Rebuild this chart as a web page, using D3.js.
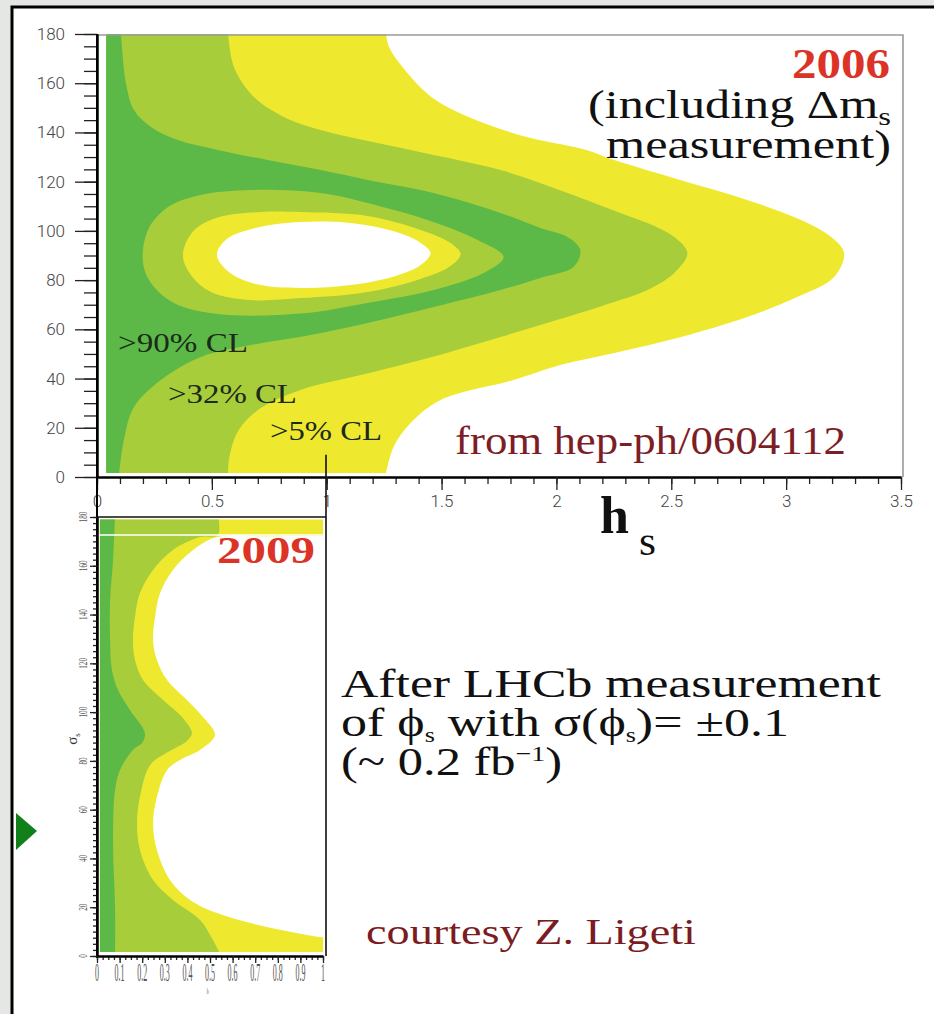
<!DOCTYPE html>
<html>
<head>
<meta charset="utf-8">
<script src="https://cdn.jsdelivr.net/npm/d3@7"></script>
<style>
  html, body { margin: 0; padding: 0; background: #fff; }
  svg { display: block; }
  .serif { font-family: "Liberation Serif", serif; }
  .ticklbl { font-family: Roboto, "DejaVu Sans", sans-serif; font-weight: 300; }
</style>
</head>
<body>
<svg id="chart" width="934" height="1014"></svg>
<script>
// ---------- axis ticks ----------
const hTicks2006 = [0, 0.5, 1, 1.5, 2, 2.5, 3, 3.5];
const hTickLabels2006 = ["0", "0.5", "1", "1.5", "2", "2.5", "3", "3.5"];
const sigmaTicks = [0, 20, 40, 60, 80, 100, 120, 140, 160, 180];
const sigmaTickLabels = ["0", "20", "40", "60", "80", "100", "120", "140", "160", "180"];
const hTicks2009 = [0, 0.1, 0.2, 0.3, 0.4, 0.5, 0.6, 0.7, 0.8, 0.9, 1];
const hTickLabels2009 = ["0", "0.1", "0.2", "0.3", "0.4", "0.5", "0.6", "0.7", "0.8", "0.9", "1"];

// ---------- 2006 fit: CL contour boundaries, [h_s, sigma_s (deg)] ----------
// outer edges of the left-attached regions, listed from sigma = 180 down to 0
const cl5Outer2006 = [
  [1.257, 181], [1.27, 175], [1.33, 166.6], [1.474, 153.2], [1.809, 139.8], [2.13, 132.9],
  [2.252, 128.8], [2.539, 120.7], [2.830, 112.6], [3.065, 104.4], [3.196, 97.5], [3.252, 91.0],
  [3.209, 81.3], [3.048, 73.1], [2.830, 65.0], [2.543, 56.9], [2.252, 50.4], [2.017, 45.5],
  [1.813, 39.4], [1.496, 31.3], [1.365, 21.9], [1.291, 12.2], [1.257, 1.0]
];
const cl32Outer2006 = [
  [0.570, 181], [0.596, 166.6], [0.683, 154.4], [0.813, 146.3], [0.974, 141.0], [1.365, 132.9],
  [1.757, 124.7], [2.048, 115.4], [2.278, 107.3], [2.396, 103.2], [2.513, 97.5], [2.570, 91.0],
  [2.513, 82.9], [2.396, 76.0], [2.252, 71.1], [1.757, 56.9], [1.409, 47.5], [1.148, 41.4],
  [0.887, 35.4], [0.713, 28.0], [0.617, 19.1], [0.578, 8.9], [0.570, 1.0]
];
const cl90Outer2006 = [
  [0.104, 181], [0.126, 160.1], [0.161, 149.1], [0.235, 142.2], [0.352, 136.9], [0.526, 132.9],
  [0.743, 128.8], [0.974, 124.7], [1.178, 120.7], [1.465, 115.4], [1.757, 107.3], [1.930, 101.2],
  [2.048, 97.5], [2.104, 92.2], [2.074, 85.3], [1.930, 80.9], [1.757, 76.0], [1.465, 69.1],
  [1.178, 62.6], [0.930, 57.7], [0.670, 53.6], [0.452, 48.8], [0.278, 39.4], [0.161, 28.4],
  [0.117, 15.0], [0.096, 1.0]
];
// closed islands around the preferred point near sigma = 90
const cl90Hole2006 = [
  [0.200, 87.4], [0.222, 100.4], [0.309, 109.7], [0.452, 114.6], [0.670, 116.6], [0.974, 115.4],
  [1.178, 111.3], [1.465, 103.6], [1.657, 96.3], [1.770, 89.4], [1.683, 82.9], [1.465, 76.0],
  [1.178, 70.7], [0.887, 66.4], [0.526, 66.2], [0.335, 70.7], [0.235, 78.8]
];
const cl32Hole2006 = [
  [0.374, 90.2], [0.417, 99.6], [0.517, 105.2], [0.713, 107.7], [0.887, 107.7], [1.178, 106.1],
  [1.409, 100.4], [1.539, 95.1], [1.583, 90.6], [1.539, 85.7], [1.409, 80.5], [1.178, 75.2],
  [0.887, 72.7], [0.670, 71.9], [0.496, 75.2], [0.409, 82.1]
];
const cl5Hole2006 = [
  [0.522, 90.2], [0.565, 96.7], [0.691, 101.2], [0.887, 103.6], [1.104, 103.2], [1.300, 99.6],
  [1.409, 95.1], [1.452, 91.0], [1.409, 86.1], [1.300, 81.7], [1.104, 78.0], [0.887, 76.8],
  [0.691, 78.4], [0.574, 83.3]
];

// ---------- 2009 projection: CL contour edges, [h_s, sigma_s (deg)] ----------
const cl5Edge2009 = [
  [1.0, 172.2], [0.75, 172.1], [0.531, 171.8], [0.425, 166.5], [0.336, 158.3], [0.279, 148.8],
  [0.257, 139.0], [0.248, 129.6], [0.265, 121.4], [0.310, 113.2], [0.398, 105.0], [0.469, 98.0],
  [0.522, 90.6], [0.456, 84.5], [0.367, 80.4], [0.310, 76.3], [0.265, 65.2], [0.248, 54.5],
  [0.265, 43.5], [0.323, 31.2], [0.412, 23.0], [0.531, 17.6], [0.752, 11.9], [0.987, 7.8], [1.02, 7.6]
];
const cl32Edge2009 = [
  [0.535, 181], [0.535, 172.6], [0.456, 171.8], [0.336, 166.5], [0.248, 158.3], [0.190, 148.8],
  [0.168, 139.0], [0.159, 129.6], [0.168, 121.4], [0.204, 113.2], [0.292, 105.0], [0.376, 98.0],
  [0.420, 91.4], [0.398, 88.2], [0.314, 83.6], [0.235, 78.3], [0.190, 65.2], [0.177, 54.5],
  [0.190, 43.5], [0.248, 31.2], [0.336, 23.0], [0.456, 14.8], [0.513, 6.6], [0.544, 1.0]
];
const cl90Edge2009 = [
  [0.080, 181], [0.071, 162.4], [0.058, 146.0], [0.058, 129.6], [0.066, 117.3], [0.093, 109.1],
  [0.146, 100.9], [0.212, 91.4], [0.199, 87.3], [0.159, 84.5], [0.102, 76.3], [0.080, 68.1],
  [0.071, 47.6], [0.080, 20.1], [0.080, 1.0]
];

// ---------- styling ----------
const colYellow = "#eee92f";
const colLight = "#a7cd3b";
const colGreen = "#5cb947";

const svg = d3.select("#chart");
const defs = svg.append("defs");

// slide backdrop and frame
svg.append("rect").attr("width", 934).attr("height", 1014).attr("fill", "#e4e7e4");
svg.append("rect").attr("x", 12).attr("y", 7).attr("width", 930).attr("height", 1010).attr("fill", "#fff");
svg.append("path").attr("d", "M12,1014V7H934").attr("fill", "none").attr("stroke", "#000").attr("stroke-width", 3);

// stretches a text element horizontally so it spans `width` starting at x
function placeText(sel, x, baseline, width) {
  const bb = sel.node().getBBox();
  const s = width / bb.width;
  sel.attr("transform", `translate(${x - bb.x * s},${baseline}) scale(${s},1)`);
  return sel;
}

// ================= 2006 panel =================
const x06 = d3.scaleLinear().domain([0, 3.5]).range([97, 901]);
const y06 = d3.scaleLinear().domain([0, 180]).range([477, 34]);

defs.append("clipPath").attr("id", "clip06").append("rect")
  .attr("x", x06(0.04)).attr("y", y06(180))
  .attr("width", x06(3.5) - x06(0.04)).attr("height", y06(1.6) - y06(180));

const g06 = svg.append("g").attr("clip-path", "url(#clip06)");
const band06 = d3.area().curve(d3.curveCatmullRom.alpha(0.5))
  .y(d => y06(d[1])).x0(x06(0)).x1(d => x06(d[0]));
const ring06 = d3.line().curve(d3.curveCatmullRomClosed.alpha(0.5))
  .x(d => x06(d[0])).y(d => y06(d[1]));

g06.append("path").datum(cl5Outer2006).attr("d", band06).attr("fill", colYellow);
g06.append("path").datum(cl32Outer2006).attr("d", band06).attr("fill", colLight);
g06.append("path").datum(cl90Outer2006).attr("d", band06).attr("fill", colGreen);
g06.append("path").datum(cl90Hole2006).attr("d", ring06).attr("fill", colLight);
g06.append("path").datum(cl32Hole2006).attr("d", ring06).attr("fill", colYellow);
g06.append("path").datum(cl5Hole2006).attr("d", ring06).attr("fill", "#fff");

// light frame on top and right
svg.append("path")
  .attr("d", `M${x06(0)},${y06(180) + 1}H${x06(3.5) + 2}V${y06(0)}`)
  .attr("fill", "none").attr("stroke", "#9a9a9a").attr("stroke-width", 1.6);

function styleAxis(g, w) {
  g.select(".domain").attr("stroke", "#000").attr("stroke-width", w);
  g.selectAll(".tick line").attr("stroke", "#222").attr("stroke-width", 1.3);
}

// h_s axis
const minorH06 = d3.range(0, 3.5001, 0.1);
const gx06m = svg.append("g").attr("transform", `translate(0,${y06(0)})`)
  .call(d3.axisBottom(x06).tickValues(minorH06).tickSize(7).tickFormat("").tickSizeOuter(0));
styleAxis(gx06m, 2);
const gx06 = svg.append("g").attr("transform", `translate(0,${y06(0)})`)
  .call(d3.axisBottom(x06).tickValues(hTicks2006).tickSize(13).tickSizeOuter(0).tickPadding(5)
    .tickFormat((d, i) => hTickLabels2006[i]));
styleAxis(gx06, 2);
gx06.selectAll(".tick text").attr("class", "ticklbl").attr("font-size", 17).attr("fill", "#444");

// sigma axis
const minorS06 = d3.range(0, 180.001, 5);
const gy06m = svg.append("g").attr("transform", `translate(${x06(0)},0)`)
  .call(d3.axisLeft(y06).tickValues(minorS06).tickSize(13).tickFormat("").tickSizeOuter(0));
styleAxis(gy06m, 2);
const gy06 = svg.append("g").attr("transform", `translate(${x06(0)},0)`)
  .call(d3.axisLeft(y06).tickValues(sigmaTicks).tickSize(22).tickSizeOuter(0).tickPadding(10)
    .tickFormat((d, i) => sigmaTickLabels[i]));
styleAxis(gy06, 2);
gy06.selectAll(".tick text").attr("class", "ticklbl").attr("font-size", 17).attr("fill", "#444");

// ================= 2009 panel =================
const x09 = d3.scaleLinear().domain([0, 1]).range([97, 323]);
const y09 = d3.scaleLinear().domain([0, 180]).range([956, 517]);

defs.append("clipPath").attr("id", "clip09").append("rect")
  .attr("x", x09(0.013)).attr("y", y09(179))
  .attr("width", x09(1) - x09(0.013)).attr("height", y09(1.6) - y09(179));

const g09 = svg.append("g").attr("clip-path", "url(#clip09)");
g09.append("rect").attr("x", x09(0)).attr("y", y09(180))
  .attr("width", x09(1) - x09(0)).attr("height", y09(0) - y09(180)).attr("fill", colYellow);
g09.append("path").datum(cl5Edge2009)
  .attr("d", d3.area().curve(d3.curveCatmullRom.alpha(0.5))
    .y(d => y09(d[1])).x0(d => x09(d[0])).x1(x09(1.05)))
  .attr("fill", "#fff");
const band09 = d3.area().curve(d3.curveCatmullRom.alpha(0.5))
  .y(d => y09(d[1])).x0(x09(0)).x1(d => x09(d[0]));
g09.append("path").datum(cl32Edge2009).attr("d", band09).attr("fill", colLight);
g09.append("path").datum(cl90Edge2009).attr("d", band09).attr("fill", colGreen);

// thin white seam across the top of the panel
svg.append("line").attr("x1", x09(0)).attr("x2", x09(1) + 8)
  .attr("y1", y09(172.6)).attr("y2", y09(172.6))
  .attr("stroke", "#fff").attr("stroke-width", 1.6);

// panel frame: top and right edges
svg.append("path")
  .attr("d", `M${x09(0)},${y09(180)}H${x09(1) + 3}M${x09(1) + 3},${y06(9)}V${y09(0)}`)
  .attr("fill", "none").attr("stroke", "#111").attr("stroke-width", 1.6);

// long left spine shared by both panels
svg.append("line").attr("x1", x06(0)).attr("x2", x06(0))
  .attr("y1", y06(180)).attr("y2", y09(0) + 2)
  .attr("stroke", "#000").attr("stroke-width", 2);

const gx09m = svg.append("g").attr("transform", `translate(0,${y09(0)})`)
  .call(d3.axisBottom(x09).tickValues(d3.range(0, 1.0001, 0.025)).tickSize(4).tickFormat("").tickSizeOuter(0));
styleAxis(gx09m, 2);
const gx09 = svg.append("g").attr("transform", `translate(0,${y09(0)})`)
  .call(d3.axisBottom(x09).tickValues(hTicks2009).tickSize(7).tickFormat("").tickSizeOuter(0));
styleAxis(gx09, 2);
// squeezed tick labels under the small panel
svg.append("g").selectAll("text").data(hTicks2009).join("text")
  .attr("class", "serif")
  .attr("transform", d => `translate(${x09(d)},${y09(0) + 7}) scale(0.32,1)`)
  .attr("text-anchor", "middle").attr("dominant-baseline", "hanging")
  .attr("font-size", 25).attr("fill", "#555")
  .text((d, i) => hTickLabels2009[i]);

const gy09m = svg.append("g").attr("transform", `translate(${x09(0)},0)`)
  .call(d3.axisLeft(y09).tickValues(d3.range(0, 180.001, 2.5)).tickSize(4).tickFormat("").tickSizeOuter(0));
styleAxis(gy09m, 2);
const gy09 = svg.append("g").attr("transform", `translate(${x09(0)},0)`)
  .call(d3.axisLeft(y09).tickValues(sigmaTicks).tickSize(7).tickFormat("").tickSizeOuter(0));
styleAxis(gy09, 2);
svg.append("g").selectAll("text").data(sigmaTicks).join("text")
  .attr("class", "serif")
  .attr("transform", d => `translate(${x09(0) - 10},${y09(d)}) rotate(-90) scale(0.6,1)`)
  .attr("text-anchor", "middle")
  .attr("font-size", 12).attr("fill", "#555")
  .text((d, i) => sigmaTickLabels[i]);
// axis titles of the small panel
svg.append("text").attr("class", "serif")
  .attr("transform", `translate(${x09(0) - 20},${y09(89)}) rotate(-90)`)
  .attr("text-anchor", "middle").attr("font-size", 15).attr("fill", "#333")
  .text("σ").append("tspan").attr("font-size", 9).attr("dy", 3).text("s");
svg.append("text").attr("class", "serif")
  .attr("transform", `translate(${x09(0.49)},${y09(0) + 38}) scale(0.4,1)`)
  .attr("text-anchor", "middle").attr("font-size", 9).attr("fill", "#555")
  .text("h");

// ================= labels =================
const label = (txt, size, color, weight) => svg.append("text").attr("class", "serif")
  .attr("font-size", size).attr("fill", color)
  .attr("font-weight", weight || "normal").text(txt);

placeText(label(">90% CL", 27, "#1b2a1b"), 118, 352, 130);
placeText(label(">32% CL", 27, "#1b2a1b"), 168, 403, 129);
placeText(label(">5% CL", 27, "#1b2a1b"), 270, 440, 112);

placeText(label("2006", 42, "#db3326", "bold"), 792, 78, 98);
const incl = label("(including Δm", 40, "#111");
incl.append("tspan").attr("font-size", 26).attr("dy", 7).text("s");
placeText(incl, 588, 118, 303);
placeText(label("measurement)", 40, "#111"), 606, 158, 285);
placeText(label("from hep-ph/0604112", 40, "#7d1e26"), 455, 454, 391);

placeText(label("h", 52, "#111", "bold"), 600, 533, 29);
placeText(label("s", 40, "#111"), 639, 555, 17);

placeText(label("2009", 38, "#db3326", "bold"), 217, 563, 98);

placeText(label("After LHCb measurement", 40, "#111"), 341, 697, 540);
const l2 = label("of ϕ", 40, "#111");
l2.append("tspan").attr("font-size", 20).attr("dy", 6).text("s");
l2.append("tspan").attr("dy", -6).text(" with σ(ϕ");
l2.append("tspan").attr("font-size", 20).attr("dy", 6).text("s");
l2.append("tspan").attr("dy", -6).text(")= ±0.1");
placeText(l2, 341, 736, 448);
const l3 = label("(~ 0.2 fb", 40, "#111");
l3.append("tspan").attr("font-size", 22).attr("dy", -14).text("−1");
l3.append("tspan").attr("dy", 14).text(")");
placeText(l3, 341, 775, 221);
placeText(label("courtesy Z. Ligeti", 36, "#7b1c22"), 366, 944, 330);

// slide bullet
svg.append("path").attr("d", "M16,813L37,831L16,850Z").attr("fill", "#12801a");
</script>
</body>
</html>
